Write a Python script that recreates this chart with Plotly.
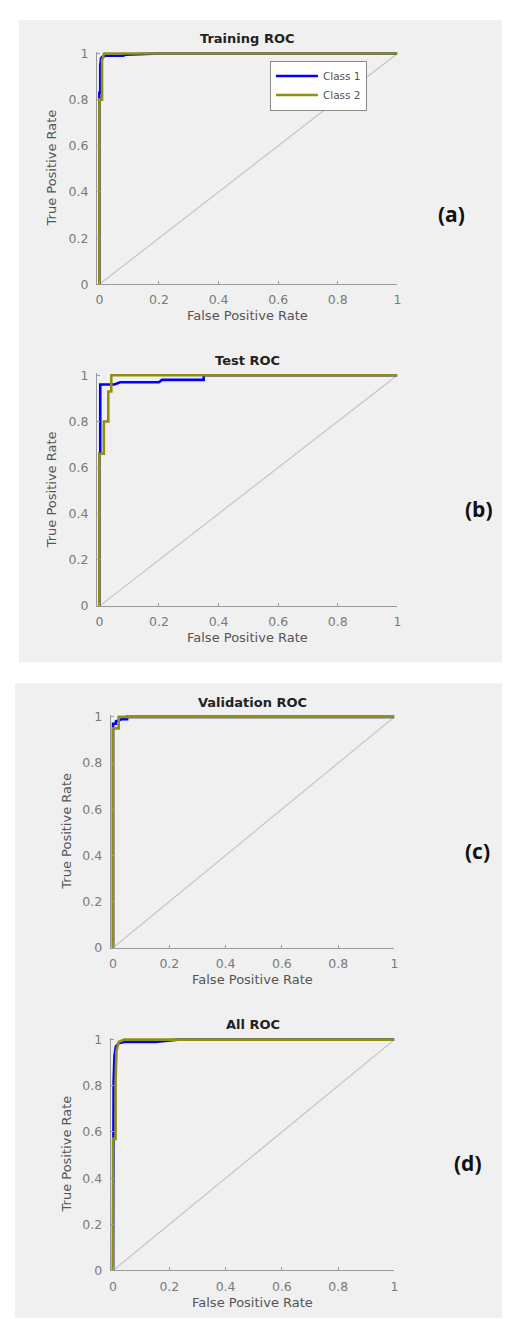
import plotly.graph_objects as go

W, H = 510, 1319

# ---------------- data ----------------
titles = ["Training ROC", "Test ROC", "Validation ROC", "All ROC"]
panel_tags = ["(a)", "(b)", "(c)", "(d)"]
class_names = ["Class 1", "Class 2"]
tick_vals = [0, 0.2, 0.4, 0.6, 0.8, 1]
tick_text = ["0", "0.2", "0.4", "0.6", "0.8", "1"]

train_c1_fpr = [0, 0, 0.003, 0.003, 0.006, 0.01, 0.02, 0.08, 0.09, 0.2, 1]
train_c1_tpr = [0, 0.83, 0.83, 0.95, 0.98, 0.985, 0.99, 0.99, 0.995, 1, 1]
train_c2_fpr = [0, 0, 0.009, 0.009, 0.016, 1]
train_c2_tpr = [0, 0.8, 0.8, 0.97, 1, 1]

test_c1_fpr = [0, 0, 0.003, 0.003, 0.05, 0.07, 0.2, 0.21, 0.35, 0.35, 1]
test_c1_tpr = [0, 0.66, 0.66, 0.96, 0.96, 0.97, 0.97, 0.98, 0.98, 1, 1]
test_c2_fpr = [0, 0, 0.015, 0.015, 0.03, 0.03, 0.04, 0.04, 1]
test_c2_tpr = [0, 0.66, 0.66, 0.8, 0.8, 0.93, 0.93, 1, 1]

val_c1_fpr = [0, 0, 0.01, 0.01, 0.03, 0.05, 0.05, 1]
val_c1_tpr = [0, 0.97, 0.97, 0.98, 0.99, 0.99, 1, 1]
val_c2_fpr = [0, 0, 0.02, 0.02, 1]
val_c2_tpr = [0, 0.95, 0.95, 1, 1]

all_c1_fpr = [0, 0, 0.002, 0.005, 0.01, 0.02, 0.04, 0.15, 0.23, 1]
all_c1_tpr = [0, 0.57, 0.82, 0.93, 0.97, 0.985, 0.99, 0.99, 1, 1]
all_c2_fpr = [0, 0, 0.009, 0.009, 0.012, 0.02, 0.04, 1]
all_c2_tpr = [0, 0.57, 0.57, 0.82, 0.95, 0.99, 1, 1]

diag = [0, 1]

curves = [
    (train_c1_fpr, train_c1_tpr, train_c2_fpr, train_c2_tpr),
    (test_c1_fpr, test_c1_tpr, test_c2_fpr, test_c2_tpr),
    (val_c1_fpr, val_c1_tpr, val_c2_fpr, val_c2_tpr),
    (all_c1_fpr, all_c1_tpr, all_c2_fpr, all_c2_tpr),
]

# ---------------- layout (pixels) ----------------
boxes = [(88, 392, 38, 273), (88, 392, 363, 598), (102, 389, 708, 943), (102, 389, 1034, 1269)]
ylab_x = [42, 42, 57, 57]
tag_pos = [(447, 202), (475, 500), (473, 845), (463, 1160)]

BLUE = "#0000ff"
OLIVE = "#8f8f12"
GRAYDIAG = "#c4c4c4"
FONT = "DejaVu Sans, Liberation Sans, Arial, sans-serif"


def px(x):
    return x / W


def py(y):
    return 1 - y / H


fig = go.Figure()
layout = dict(
    width=W, height=H,
    margin=dict(l=0, r=0, t=0, b=0),
    paper_bgcolor="white",
    plot_bgcolor="white",
    showlegend=True,
    font=dict(family=FONT),
)

annotations = []
for i, (bx0, bx1, byt, byb) in enumerate(boxes):
    n = "" if i == 0 else str(i + 1)
    xa, ya = "x" + n, "y" + n
    c1x, c1y, c2x, c2y = curves[i]
    fig.add_trace(go.Scatter(x=diag, y=diag, mode="lines", xaxis=xa, yaxis=ya,
                             line=dict(color=GRAYDIAG, width=1.2), showlegend=False,
                             hoverinfo="skip"))
    fig.add_trace(go.Scatter(x=c1x, y=c1y, mode="lines", xaxis=xa, yaxis=ya,
                             name=class_names[0], line=dict(color=BLUE, width=2.6),
                             showlegend=(i == 0)))
    fig.add_trace(go.Scatter(x=c2x, y=c2y, mode="lines", xaxis=xa, yaxis=ya,
                             name=class_names[1], line=dict(color=OLIVE, width=2.6),
                             showlegend=(i == 0)))
    axcommon = dict(
        tickvals=tick_vals, ticktext=tick_text,
        showgrid=False, zeroline=False,
        showline=True, linecolor="#9a9a9a", linewidth=1.2,
        ticks="inside", ticklen=3, tickcolor="#9a9a9a",
        tickfont=dict(size=12.5, color="#7a7a7a", family=FONT),
        fixedrange=True,
    )
    layout["xaxis" + n] = dict(axcommon, domain=[px(bx0), px(bx1)], range=[-0.008, 1.0],
                               anchor=ya, ticklabelstandoff=4)
    layout["yaxis" + n] = dict(axcommon, domain=[py(byb), py(byt)], range=[0, 1.008],
                               anchor=xa, ticklabelstandoff=5)
    cx = (bx0 + bx1) / 2
    annotations.append(dict(text="<b>" + titles[i] + "</b>", x=px(cx), y=py(byt - 13),
                            xref="paper", yref="paper", showarrow=False,
                            font=dict(size=13, color="#222222", family=FONT),
                            xanchor="center", yanchor="middle"))
    annotations.append(dict(text="False Positive Rate", x=px(cx), y=py(byb + 32),
                            xref="paper", yref="paper", showarrow=False,
                            font=dict(size=13, color="#555555", family=FONT),
                            xanchor="center", yanchor="middle"))
    annotations.append(dict(text="True Positive Rate", x=px(ylab_x[i]), y=py((byt + byb) / 2),
                            xref="paper", yref="paper", showarrow=False, textangle=-90,
                            font=dict(size=13, color="#555555", family=FONT),
                            xanchor="center", yanchor="middle"))
    tx, ty = tag_pos[i]
    annotations.append(dict(text="<b>" + panel_tags[i] + "</b>", x=px(tx), y=py(ty),
                            xref="paper", yref="paper", showarrow=False,
                            font=dict(size=21, color="#111111", family="Open Sans, sans-serif"),
                            xanchor="center", yanchor="middle"))

layout["annotations"] = annotations
layout["shapes"] = [
    dict(type="rect", xref="paper", yref="paper", x0=px(9), x1=px(510), y0=py(655), y1=py(6),
         fillcolor="#f0f0f0", line=dict(width=0), layer="below"),
    dict(type="rect", xref="paper", yref="paper", x0=px(5), x1=px(510), y0=py(1317), y1=py(676),
         fillcolor="#f0f0f0", line=dict(width=0), layer="below"),
]
layout["legend"] = dict(
    x=px(263), y=py(47), xanchor="left", yanchor="top",
    bgcolor="white", bordercolor="#8a8a8a", borderwidth=1,
    font=dict(size=10.5, color="#555555", family=FONT),
    itemwidth=42, tracegroupgap=0,
)
fig.update_layout(**layout)
fig.write_html("out.html")
